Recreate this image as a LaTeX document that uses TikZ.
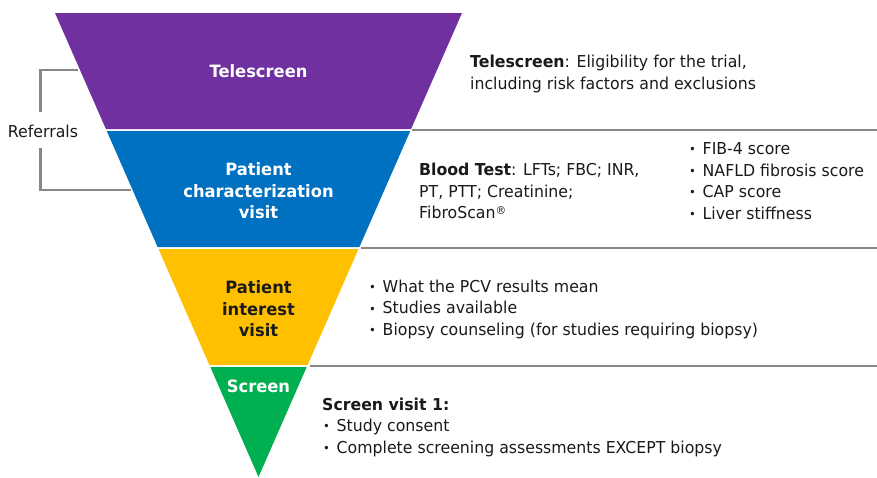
\documentclass[tikz,border=0pt]{standalone}
\usepackage{fontspec}
\setmainfont{DejaVu Sans}[FakeStretch=0.96]
\definecolor{cpurple}{HTML}{7030A0}
\definecolor{cblue}{HTML}{0070C0}
\definecolor{cyellow}{HTML}{FFC000}
\definecolor{cgreen}{HTML}{00B050}
\definecolor{cgray}{HTML}{878787}
\definecolor{ctext}{HTML}{1A1A1A}
\newcommand\bul{\makebox[13.5pt][l]{\raisebox{0.3pt}{\fontsize{12}{12}\selectfont•}}}
\tikzset{
  sep/.style={draw=cgray, line width=2pt},
  bracket/.style={draw=cgray, line width=2.7pt},
  stage/.style={text=white, font=\fontsize{17}{21}\selectfont\bfseries, inner sep=0pt, anchor=base},
  stagedark/.style={stage, text=ctext},
  desc/.style={text=ctext, font=\fontsize{16.4}{21}\selectfont, inner sep=0pt, anchor=base west},
}
\begin{document}
\begin{tikzpicture}[x=1pt,y=-1pt]
\useasboundingbox (0,0) rectangle (877,477);
% funnel bands
\fill[cpurple] (55,13) -- (462,13) -- (411.1,129) -- (105.9,129) -- cycle;
\fill[cblue] (106.75,131) -- (410.25,131) -- (359.4,247) -- (157.6,247) -- cycle;
\fill[cyellow] (158.5,249) -- (358.5,249) -- (307.6,365) -- (209.4,365) -- cycle;
\fill[cgreen] (210.3,367) -- (306.7,367) -- (258.5,477) -- cycle;
% separators
\coordinate (s1a) at (412,130); \coordinate (s1b) at (877,130);
\coordinate (s2a) at (361,248); \coordinate (s2b) at (877,248);
\coordinate (s3a) at (310,366); \coordinate (s3b) at (877,366);
\draw[sep] (s1a) -- (s1b);
\draw[sep] (s2a) -- (s2b);
\draw[sep] (s3a) -- (s3b);
% stage labels
\node[stage] (tele) at (258.5,77) {Telescreen};
\node[stage] (pcv1) at (258.5,175) {Patient};
\node[stage] (pcv2) at (258.5,197) {characterization};
\node[stage] (pcv3) at (258.5,218.5) {visit};
\node[stagedark] (piv1) at (258.5,293) {Patient};
\node[stagedark] (piv2) at (258.5,315) {interest};
\node[stagedark] (piv3) at (258.5,336.5) {visit};
\node[stage] (scr) at (258.5,392) {Screen};
% referrals
\node[desc, anchor=base] (ref) at (43,137) {Referrals};
\coordinate (r1) at (78,70); \coordinate (r2) at (40.5,70); \coordinate (r3) at (40.5,112);
\coordinate (r4) at (40.5,148); \coordinate (r5) at (40.5,190); \coordinate (r6) at (131,190);
\draw[bracket] (r1) -- (r2) -- (r3);
\draw[bracket] (r4) -- (r5) -- (r6);
% descriptions
\node[desc] (d1a) at (470,67) {\textbf{Telescreen}: Eligibility for the trial,};
\node[desc] (d1b) at (470,89) {including risk factors and exclusions};
\node[desc] (d2a) at (419,175) {\textbf{Blood Test}: LFTs; FBC; INR,};
\node[desc] (d2b) at (419,197) {PT, PTT; Creatinine;};
\node[desc] (d2c) at (419,218) {FibroScan\raisebox{4pt}{\fontsize{11}{11}\selectfont®}};
\node[desc] (d3a) at (689,154) {\bul FIB-4 score};
\node[desc] (d3b) at (689,176) {\bul NAFLD fibrosis score};
\node[desc] (d3c) at (689,197) {\bul CAP score};
\node[desc] (d3d) at (689,219) {\bul Liver stiffness};
\node[desc] (d4a) at (369,292) {\bul What the PCV results mean};
\node[desc] (d4b) at (369,313.5) {\bul Studies available};
\node[desc] (d4c) at (369,335) {\bul Biopsy counseling (for studies requiring biopsy)};
\node[desc] (d5a) at (322,410) {\textbf{Screen visit 1:}};
\node[desc] (d5b) at (323,431) {\bul Study consent};
\node[desc] (d5c) at (323,453) {\bul Complete screening assessments EXCEPT biopsy};
\end{tikzpicture}
\end{document}
